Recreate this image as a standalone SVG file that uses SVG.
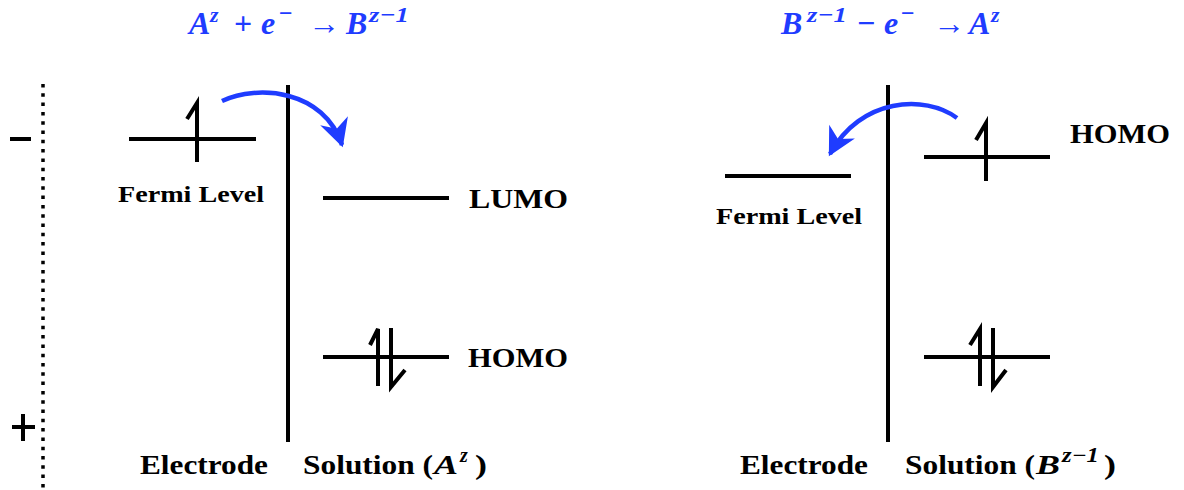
<svg xmlns="http://www.w3.org/2000/svg" width="1184" height="490" viewBox="0 0 1184 490">
<style>
.ln{stroke:#000;stroke-width:4;fill:none;stroke-linecap:butt}
.sp{stroke:#000;stroke-width:4;fill:none;stroke-linecap:butt;stroke-linejoin:miter}
.lbl{font-family:'Liberation Serif',serif;font-weight:700;fill:#000}
.tt{font-family:'Liberation Serif',serif;font-weight:700;fill:#1f3cff}
.it{font-style:italic}
.blue{stroke:#1f3cff;stroke-width:4.5;fill:none}
</style>
<defs>
<marker id="ah" markerUnits="userSpaceOnUse" markerWidth="34" markerHeight="34" refX="0" refY="0" viewBox="-24 -14 28 28" orient="auto">
<path d="M2,0 L-21,-12 L-14,0 L-21,12 Z" fill="#1f3cff"/>
</marker>
</defs>

<g id="titles">
<text class="tt" font-size="32" y="34"><tspan class="it" x="189">A</tspan><tspan class="it" x="210" y="22" font-size="22">z</tspan><tspan x="234" y="34">+</tspan><tspan class="it" x="261">e</tspan><tspan x="279" y="21" font-size="24">−</tspan><tspan x="308" y="34">→</tspan><tspan class="it" x="346">B</tspan><tspan class="it" x="369" y="22" font-size="22" textLength="40" lengthAdjust="spacingAndGlyphs">z−1</tspan></text>
<text class="tt" font-size="32" y="34"><tspan class="it" x="781">B</tspan><tspan class="it" x="807" y="22" font-size="22" textLength="40" lengthAdjust="spacingAndGlyphs">z−1</tspan><tspan x="857" y="34">−</tspan><tspan class="it" x="884">e</tspan><tspan x="901" y="21" font-size="24">−</tspan><tspan x="933" y="34">→</tspan><tspan class="it" x="969">A</tspan><tspan class="it" x="991" y="22" font-size="22">z</tspan></text>
</g>

<g id="potential-axis">
<line x1="43" y1="84" x2="43" y2="488" stroke="#000" stroke-width="3.5" stroke-dasharray="3.5 5.8"/>
<line class="ln" x1="10" y1="139" x2="31" y2="139" stroke-width="3"/>
<line class="ln" x1="12" y1="427" x2="35" y2="427" stroke-width="3"/>
<line class="ln" x1="23" y1="414" x2="23" y2="441" stroke-width="3"/>
</g>

<g id="left-interface">
<line class="ln" x1="288" y1="85" x2="288" y2="442"/>
</g>
<g id="left-fermi">
<line class="ln" x1="129" y1="139" x2="256" y2="139"/>
<path class="sp" d="M187,119 L197,103 L197,162"/>
<text class="lbl" x="118" y="202" font-size="24" textLength="146" lengthAdjust="spacingAndGlyphs">Fermi Level</text>
</g>
<g id="left-lumo">
<line class="ln" x1="323" y1="198" x2="449" y2="198"/>
<text class="lbl" x="469" y="208" font-size="28" textLength="99" lengthAdjust="spacingAndGlyphs">LUMO</text>
</g>
<g id="left-homo">
<line class="ln" x1="323" y1="357" x2="449" y2="357"/>
<path class="sp" d="M370,345 L378,329 L378,386"/>
<path class="sp" d="M391,328 L391,387 L405,370"/>
<text class="lbl" x="468" y="367" font-size="28" textLength="100" lengthAdjust="spacingAndGlyphs">HOMO</text>
</g>
<g id="left-labels">
<text class="lbl" x="140" y="474" font-size="27" textLength="128" lengthAdjust="spacingAndGlyphs">Electrode</text>
<text class="lbl" x="303" y="474" font-size="27"><tspan textLength="130" lengthAdjust="spacingAndGlyphs">Solution (</tspan><tspan class="it" x="434" textLength="24" lengthAdjust="spacingAndGlyphs">A</tspan><tspan class="it" x="460" y="462" font-size="20">z</tspan><tspan x="475" y="474" textLength="12" lengthAdjust="spacingAndGlyphs">)</tspan></text>
</g>

<g id="right-interface">
<line class="ln" x1="888" y1="85" x2="888" y2="442"/>
</g>
<g id="right-fermi">
<line class="ln" x1="725" y1="176" x2="851" y2="176"/>
<text class="lbl" x="716" y="224" font-size="24" textLength="146" lengthAdjust="spacingAndGlyphs">Fermi Level</text>
</g>
<g id="right-homo">
<line class="ln" x1="924" y1="157" x2="1050" y2="157"/>
<path class="sp" d="M976,140 L986,123 L986,181"/>
<text class="lbl" x="1070" y="143" font-size="28" textLength="100" lengthAdjust="spacingAndGlyphs">HOMO</text>
</g>
<g id="right-lower">
<line class="ln" x1="924" y1="357" x2="1050" y2="357"/>
<path class="sp" d="M970,345 L980,329 L980,386"/>
<path class="sp" d="M993,328 L993,387 L1006,370"/>
</g>
<g id="right-labels">
<text class="lbl" x="740" y="474" font-size="27" textLength="128" lengthAdjust="spacingAndGlyphs">Electrode</text>
<text class="lbl" x="905" y="474" font-size="27"><tspan textLength="130" lengthAdjust="spacingAndGlyphs">Solution (</tspan><tspan class="it" x="1036" textLength="24" lengthAdjust="spacingAndGlyphs">B</tspan><tspan class="it" x="1062" y="462" font-size="20" textLength="37" lengthAdjust="spacingAndGlyphs">z−1</tspan><tspan x="1104" y="474" textLength="12" lengthAdjust="spacingAndGlyphs">)</tspan></text>
</g>

<g id="connectors">
<path class="blue" d="M222,101 C258,84 324,90 342,145" marker-end="url(#ah)"/>
<path class="blue" d="M957,118 C925,94 860,98 830,154" marker-end="url(#ah)"/>
</g>
</svg>
